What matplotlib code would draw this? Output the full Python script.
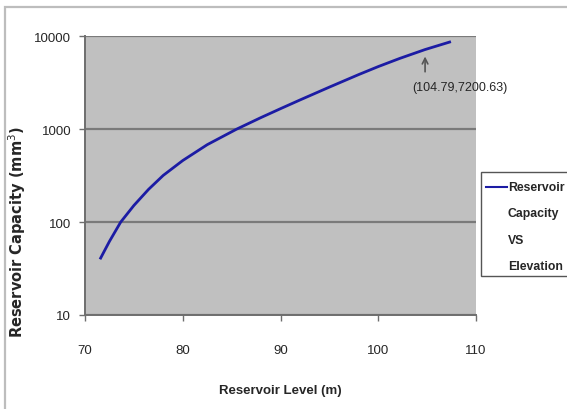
import matplotlib.pyplot as plt
from matplotlib.lines import Line2D
from matplotlib.patches import Rectangle

# values
levels = [71.6, 72.5, 73.65, 75.0, 76.5, 78.0, 80.0, 82.5, 85.5, 88.0,
          90.0, 92.0, 95.0, 98.0, 100.0, 102.2, 104.79, 107.3]
capacities = [41, 62, 100, 151, 225, 318, 460, 681, 1000, 1334,
              1663, 2065, 2838, 3873, 4721, 5781, 7200.63, 8670]
x_ticks = [70, 80, 90, 100, 110]
y_ticks = [10, 100, 1000, 10000]
marked = (104.79, 7200.63)
legend_lines = ["Reservoir", "Capacity", "VS", "Elevation"]

plt.rcParams['font.family'] = ['Liberation Sans', 'DejaVu Sans']
text_color = '#262626'
curve_color = '#1c1ca4'

fig = plt.figure(figsize=(5.67, 4.10), dpi=100)

# outer chart frame (runs off the right and bottom edges)
fig.patches.append(Rectangle((5 / 567, -0.1), 1.2, 1 - 8 / 410 + 0.1,
                             transform=fig.transFigure, fill=False,
                             edgecolor='#bdbdbd', linewidth=1.6))

ax = fig.add_axes([85 / 567, 94 / 410, 391 / 567, 278.7 / 410])
ax.set_facecolor('#c0c0c0')
ax.plot(levels, capacities, color=curve_color, linewidth=2)

ax.set_yscale('log')
ax.set_xlim(70, 110)
ax.set_ylim(10, 10000)
ax.set_xticks(x_ticks)
ax.set_yticks(y_ticks)
ax.set_yticklabels([str(v) for v in y_ticks])
ax.minorticks_off()
ax.yaxis.grid(True, color='#7a7a7a', linewidth=1.6)
ax.set_axisbelow(True)

for side in ['top', 'right']:
    ax.spines[side].set_visible(False)
for side in ['left', 'bottom']:
    ax.spines[side].set_color('#6e6e6e')
    ax.spines[side].set_linewidth(1.4)
ax.tick_params(axis='both', direction='out', length=4, width=1,
               color='#6e6e6e', labelsize=9.5, labelcolor=text_color)
ax.tick_params(axis='x', pad=17)
ax.tick_params(axis='y', pad=6)

ax.set_xlabel('Reservoir Level (m)', fontsize=9.5, color=text_color,
              fontweight='bold', labelpad=20)
ax.set_ylabel('Reservoir Capacity (mm$^3$)', fontsize=10.5, color=text_color,
              fontweight='bold', family='DejaVu Sans')
ax.yaxis.set_label_coords(-0.146, 0.30)

# marked point with arrow and label
ax.annotate('', xy=marked, xytext=(0, -16), textcoords='offset points',
            arrowprops=dict(arrowstyle='->', color='#555555', lw=1.2,
                            shrinkA=0, shrinkB=5))
ax.annotate('(%.2f,%.2f)' % marked, xy=marked, xytext=(25, -27),
            textcoords='offset points', ha='center', va='center',
            fontsize=9, color=text_color)

# legend box, running off the right edge as in the reference
fig.patches.append(Rectangle((481 / 567, 1 - 277 / 410), 0.3, 104 / 410,
                             transform=fig.transFigure, facecolor='white',
                             edgecolor='#555555', linewidth=1))
fig.lines.append(Line2D([486 / 567, 507 / 567], [1 - 188 / 410, 1 - 188 / 410],
                        transform=fig.transFigure, color=curve_color, linewidth=1.5))
for i, word in enumerate(legend_lines):
    fig.text(508 / 567, 1 - (188 + 26.5 * i) / 410, word, fontsize=8.8,
             color=text_color, fontweight='bold', va='center', ha='left')

fig.savefig('out.png', dpi=100)
